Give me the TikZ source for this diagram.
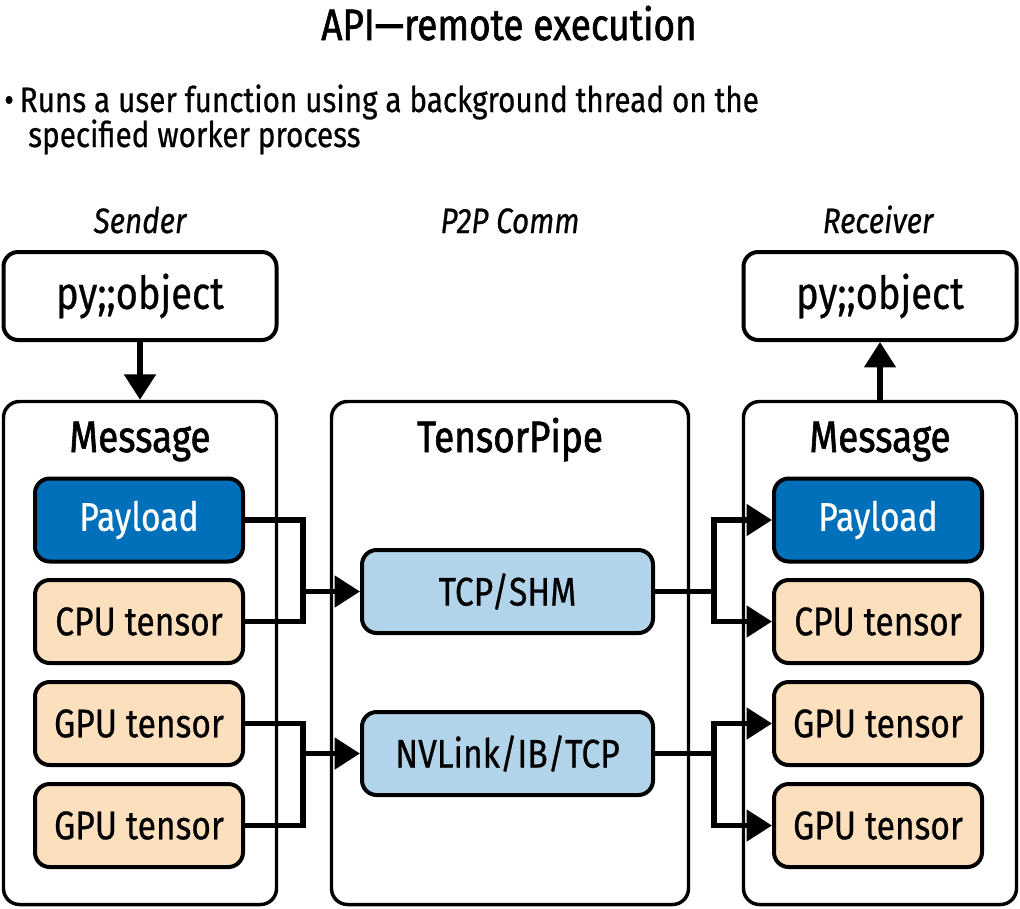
\documentclass[tikz,border=0pt]{standalone}
\usepackage{fontspec}
\setmainfont[FakeStretch=0.84,FakeBold=0.6]{Fira Sans}
\newfontfamily\medfont[FakeStretch=0.84,FakeBold=1.4]{Fira Sans}
\usetikzlibrary{arrows.meta}
\newdimen\pxu \pxu=0.75pt
\definecolor{payblue}{RGB}{0,112,187}
\definecolor{peach}{RGB}{252,224,190}
\definecolor{lblue}{RGB}{178,212,234}
\tikzset{
  box/.style={draw, line width=3pt, rounded corners=11pt, inner sep=0pt,
    font=\fontsize{30pt}{36pt}\selectfont},
  container/.style={draw, line width=2.6pt, rounded corners=12pt, inner sep=0pt,
    minimum width=273\pxu, minimum height=503\pxu},
  tensorbox/.style={box, fill=peach, minimum width=208\pxu, minimum height=83\pxu},
  paybox/.style={box, fill=payblue, text=white, minimum width=208\pxu, minimum height=83\pxu},
  linkbox/.style={box, fill=lblue, minimum width=291\pxu, minimum height=83\pxu},
  pybox/.style={box, minimum width=273\pxu, minimum height=88\pxu,
    font=\fontsize{34pt}{40pt}\selectfont},
  conn/.style={line width=4.2pt},
  arr/.style={-{Triangle[length=19pt,width=23pt]}},
  heading/.style={font=\medfont\fontsize{33pt}{38pt}\selectfont, anchor=base},
  role/.style={font=\itshape\fontsize{26.5pt}{30pt}\selectfont, anchor=base},
  bullettext/.style={font=\fontsize{26.5pt}{30pt}\selectfont, anchor=base west, inner sep=0pt}
}
\begin{document}
\begin{tikzpicture}[x=0.75pt,y=-0.75pt]
\useasboundingbox (0,0) rectangle (1020,908);
% title and bullet
\node[font=\medfont\fontsize{33pt}{38pt}\selectfont, anchor=base] (title) at (509,40) {API—remote execution};
\node[bullettext] (bul1) at (4,112) {\textbullet\,Runs a user function using a background thread on the};
\node[bullettext] (bul2) at (28,147) {specified worker process};
% role labels
\node[role] (sender) at (140,233) {Sender};
\node[role] (p2p) at (510,233) {P2P Comm};
\node[role] (receiver) at (878,233) {Receiver};
% py objects
\node[pybox] (lpy) at (140,296) {py;;object};
\node[pybox] (rpy) at (880,296) {py;;object};
% containers
\node[container] (lmsg) at (140,653) {};
\node[container, minimum width=357\pxu] (mid) at (510,653) {};
\node[container] (rmsg) at (880,653) {};
\node[heading] (lmsgt) at (140,452) {Message};
\node[heading] (midt) at (510,452) {TensorPipe};
\node[heading] (rmsgt) at (880,452) {Message};
% left inner boxes
\node[paybox] (lpay) at (139,520) {Payload};
\node[tensorbox] (lcpu) at (139,621.5) {CPU tensor};
\node[tensorbox] (lgpa) at (139,723.5) {GPU tensor};
\node[tensorbox] (lgpb) at (139,825.5) {GPU tensor};
% right inner boxes
\node[paybox] (rpay) at (878,520) {Payload};
\node[tensorbox] (rcpu) at (878,621.5) {CPU tensor};
\node[tensorbox] (rgpa) at (878,723.5) {GPU tensor};
\node[tensorbox] (rgpb) at (878,825.5) {GPU tensor};
% link boxes
\node[linkbox] (tcp) at (507.5,591.5) {TCP/SHM};
\node[linkbox] (nvl) at (507.5,753.5) {NVLink/IB/TCP};
% junctions
\coordinate (jl1) at (303,591.5);
\coordinate (jl2) at (303,753.5);
\coordinate (jr1) at (714,591.5);
\coordinate (jr2) at (714,753.5);
% vertical arrows
\draw[conn,arr] (lpy.south) -- (lmsg.north);
\draw[conn,arr] (rmsg.north) -- (rpy.south);
% left merges
\draw[conn] (lpay.east) -| (jl1) |- (lcpu.east);
\draw[conn,arr] (jl1) -- (tcp.west);
\draw[conn] (lgpa.east) -| (jl2) |- (lgpb.east);
\draw[conn,arr] (jl2) -- (nvl.west);
% right splits
\draw[conn] (tcp.east) -- (jr1);
\draw[conn,arr] (jr1) |- (rpay.west);
\draw[conn,arr] (jr1) |- (rcpu.west);
\draw[conn] (nvl.east) -- (jr2);
\draw[conn,arr] (jr2) |- (rgpa.west);
\draw[conn,arr] (jr2) |- (rgpb.west);
\end{tikzpicture}
\end{document}
